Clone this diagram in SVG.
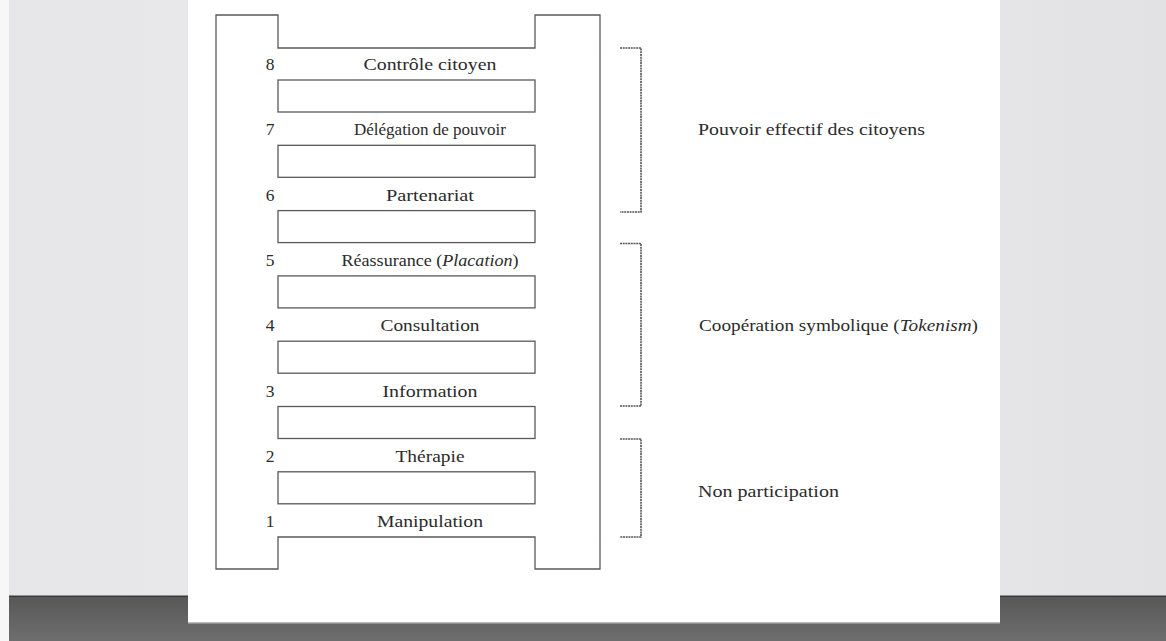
<svg xmlns="http://www.w3.org/2000/svg" width="1166" height="641" viewBox="0 0 1166 641">
<defs>
<linearGradient id="wall" x1="0" y1="0" x2="1" y2="0">
<stop offset="0" stop-color="#e6e6e8"/>
<stop offset="0.5" stop-color="#ececee"/>
<stop offset="1" stop-color="#e2e2e4"/>
</linearGradient>
<linearGradient id="floor" x1="0" y1="0" x2="0" y2="1">
<stop offset="0" stop-color="#575757"/>
<stop offset="1" stop-color="#6e6e6e"/>
</linearGradient>
<style>
.ln{fill:none;stroke:#5a5a5a;stroke-width:1.3}
.br{fill:none;stroke:#555;stroke-width:1.6;stroke-dasharray:2 0.7}
.t{font-family:"Liberation Serif","Times New Roman",serif;font-size:17.5px;fill:#2b2b2b}
.c{text-anchor:middle}
</style>
</defs>
<g id="background">
<rect x="0" y="0" width="1166" height="641" fill="url(#wall)"/>
<rect x="0" y="596" width="1166" height="45" fill="url(#floor)"/>
<rect x="0" y="595.5" width="1166" height="1.5" fill="#3a3a3a"/>
<rect x="0" y="0" width="9" height="641" fill="#f7f7f7"/>
<rect x="188" y="0" width="812" height="622" fill="#ffffff"/>
<rect x="188" y="622" width="812" height="1.5" fill="#bdbdbd"/>
</g>
<g id="ladder">
<path class="ln" d="M216,15 H278 V48 H535 V15 H600 V569 H535 V537 H278 V569 H216 Z"/>
<rect class="ln" x="278" y="80" width="257" height="32"/>
<rect class="ln" x="278" y="145.3" width="257" height="32"/>
<rect class="ln" x="278" y="210.6" width="257" height="32"/>
<rect class="ln" x="278" y="275.9" width="257" height="32"/>
<rect class="ln" x="278" y="341.2" width="257" height="32"/>
<rect class="ln" x="278" y="406.5" width="257" height="32"/>
<rect class="ln" x="278" y="471.8" width="257" height="32"/>
</g>
<g id="rung8"><text class="t c" x="270" y="70">8</text><text class="t c" x="430" y="70" textLength="133" lengthAdjust="spacingAndGlyphs">Contrôle citoyen</text></g>
<g id="rung7"><text class="t c" x="270" y="135.3">7</text><text class="t c" x="430" y="135.3" textLength="152" lengthAdjust="spacingAndGlyphs">Délégation de pouvoir</text></g>
<g id="rung6"><text class="t c" x="270" y="200.6">6</text><text class="t c" x="430" y="200.6" textLength="88" lengthAdjust="spacingAndGlyphs">Partenariat</text></g>
<g id="rung5"><text class="t c" x="270" y="265.9">5</text><text class="t c" x="430" y="265.9" textLength="177" lengthAdjust="spacingAndGlyphs">Réassurance (<tspan font-style="italic">Placation</tspan>)</text></g>
<g id="rung4"><text class="t c" x="270" y="331.2">4</text><text class="t c" x="430" y="331.2" textLength="99" lengthAdjust="spacingAndGlyphs">Consultation</text></g>
<g id="rung3"><text class="t c" x="270" y="396.5">3</text><text class="t c" x="430" y="396.5" textLength="95" lengthAdjust="spacingAndGlyphs">Information</text></g>
<g id="rung2"><text class="t c" x="270" y="461.8">2</text><text class="t c" x="430" y="461.8" textLength="69" lengthAdjust="spacingAndGlyphs">Thérapie</text></g>
<g id="rung1"><text class="t c" x="270" y="527.1">1</text><text class="t c" x="430" y="527.1" textLength="106" lengthAdjust="spacingAndGlyphs">Manipulation</text></g>
<g id="connectors">
<path class="br" d="M620,48 H641 V212 H620"/>
<path class="br" d="M620,243.5 H641 V406 H620"/>
<path class="br" d="M620,439 H641 V537 H620"/>
</g>
<g id="group-power"><text class="t" x="698" y="135" textLength="227" lengthAdjust="spacingAndGlyphs">Pouvoir effectif des citoyens</text></g>
<g id="group-tokenism"><text class="t" x="699" y="331" textLength="279" lengthAdjust="spacingAndGlyphs">Coopération symbolique (<tspan font-style="italic">Tokenism</tspan>)</text></g>
<g id="group-nonparticipation"><text class="t" x="698" y="497" textLength="141" lengthAdjust="spacingAndGlyphs">Non participation</text></g>
</svg>
